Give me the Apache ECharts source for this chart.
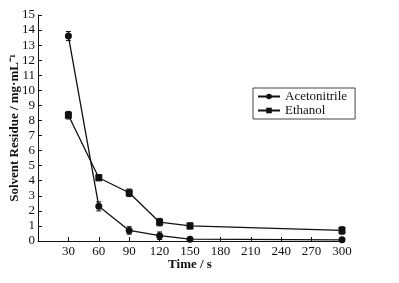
<!DOCTYPE html>
<html>
<head>
<meta charset="utf-8">
<script src="https://cdn.jsdelivr.net/npm/echarts@6/dist/echarts.min.js"></script>
<style>
html,body{margin:0;padding:0;background:#fff;}
#chart{width:399px;height:283px;}
</style>
</head>
<body>
<div id="chart"></div>
<script>
// 数据
var times = [30, 60, 90, 120, 150, 300];
var acetonitrile = [13.6, 2.3, 0.7, 0.35, 0.12, 0.08];
var acetonitrileErr = [0.3, 0.3, 0.25, 0.25, 0.12, 0.1];
var ethanol = [8.35, 4.2, 3.2, 1.25, 1.0, 0.7];
var ethanolErr = [0.25, 0.2, 0.25, 0.25, 0.2, 0.25];
var xTicks = [30, 60, 90, 120, 150, 180, 210, 240, 270, 300];

var font = 'Liberation Serif';
var dom = document.getElementById('chart');
var myChart = echarts.init(dom);

function pairs(ys){
    return times.map(function(t, i){ return [t, ys[i]]; });
}
function errData(ys, es){
    return times.map(function(t, i){ return [t, ys[i] - es[i], ys[i] + es[i]]; });
}
//误差棒
function errRender(params, api){
    var lo = api.coord([api.value(0), api.value(1)]);
    var hi = api.coord([api.value(0), api.value(2)]);
    var w = 2.5;
    var st = {stroke:'#111', lineWidth:1};
    return {
        type:'group',
        children:[
            {type:'line', shape:{x1:lo[0], y1:lo[1], x2:hi[0], y2:hi[1]}, style:st},
            {type:'line', shape:{x1:lo[0]-w, y1:lo[1], x2:lo[0]+w, y2:lo[1]}, style:st},
            {type:'line', shape:{x1:hi[0]-w, y1:hi[1], x2:hi[0]+w, y2:hi[1]}, style:st}
        ]
    };
}

myChart.setOption({
    backgroundColor:'#fff',
    animation:false,
    legend:{
        left: 253,
        top: 88,
        orient:'vertical',
        itemWidth: 22,
        itemHeight: 7,
        itemGap: 1,
        padding:[2, 8, 2, 4],
        borderColor:'#444',
        borderWidth:1,
        textStyle:{fontFamily:font, fontSize:13, color:'#111', lineHeight:13},
        data:['Acetonitrile','Ethanol']
    },
    grid:{
        left: 38,
        right: 57,
        top: 15,
        bottom: 42,
        outerBoundsMode:'none'
    },
    xAxis:{
        type:'value',
        min:0,
        max:300,
        interval:30,
        name:'Time / s',
        nameLocation:'middle',
        nameGap:17,
        nameMoveOverlap:false,
        nameTextStyle:{fontFamily:font, fontSize:13, fontWeight:'bold', color:'#111'},
        axisLine:{lineStyle:{color:'#111', width:1}},
        axisTick:{inside:true, length:4, lineStyle:{color:'#111'}},
        axisLabel:{
            fontFamily:font, fontSize:13, color:'#111', margin:4,
            formatter:function(v){ return xTicks.indexOf(v) >= 0 ? String(v) : ''; }
        },
        splitLine:{show:false}
    },
    yAxis:{
        type:'value',
        min:0,
        max:15,
        interval:1,
        name:'Solvent Residue / mg·mL⁻¹',
        nameLocation:'middle',
        nameGap:17,
        nameMoveOverlap:false,
        nameTextStyle:{fontFamily:font, fontSize:13, fontWeight:'bold', color:'#111'},
        axisLine:{show:true, lineStyle:{color:'#111', width:1}},
        axisTick:{inside:true, length:4, lineStyle:{color:'#111'}},
        axisLabel:{fontFamily:font, fontSize:13, color:'#111', margin:3},
        splitLine:{show:false}
    },
    series:[
        {
            name:'Acetonitrile',
            type:'line',
            data:pairs(acetonitrile),
            symbol:'circle',
            symbolSize:7,
            itemStyle:{color:'#111'},
            lineStyle:{color:'#111', width:1.3},
            z:3
        },
        {
            name:'Ethanol',
            type:'line',
            data:pairs(ethanol),
            symbol:'rect',
            symbolSize:7,
            itemStyle:{color:'#111'},
            lineStyle:{color:'#111', width:1.3},
            z:3
        },
        {
            type:'custom',
            renderItem:errRender,
            data:errData(acetonitrile, acetonitrileErr),
            encode:{x:0, y:[1,2]},
            z:4
        },
        {
            type:'custom',
            renderItem:errRender,
            data:errData(ethanol, ethanolErr),
            encode:{x:0, y:[1,2]},
            z:4
        }
    ]
});
window.addEventListener('resize', function(){
    myChart.resize();
});
</script>
</body>
</html>
